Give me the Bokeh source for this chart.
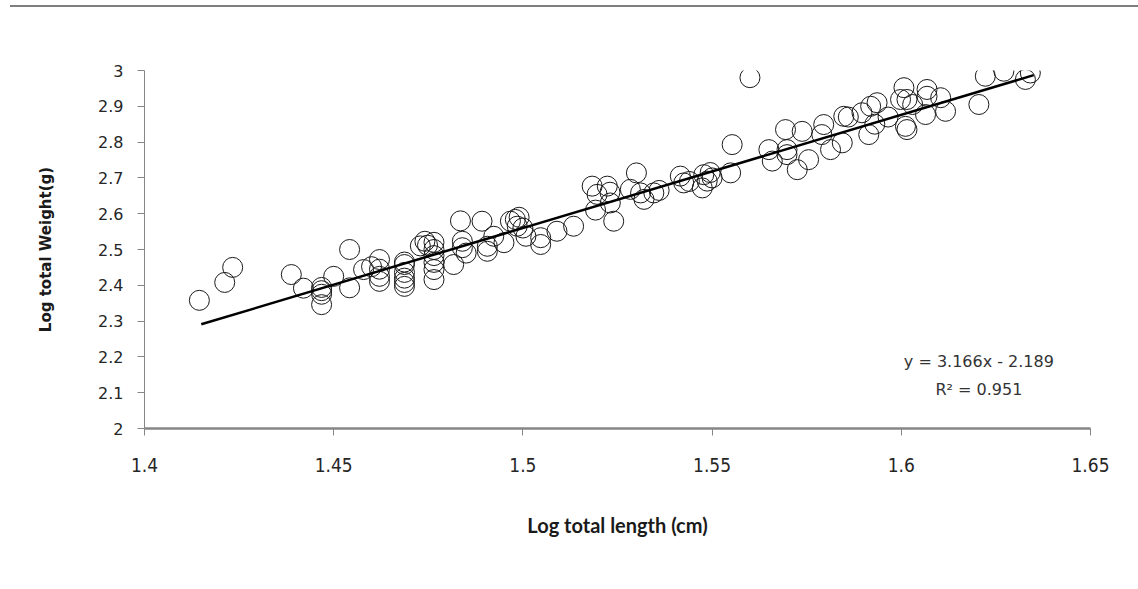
from bokeh.plotting import figure
from bokeh.models import FixedTicker, Label, Div, ColumnDataSource
from bokeh.layouts import column
from bokeh.embed import file_html
from bokeh.resources import INLINE

# ---- data ----
log_length = [
    1.4145, 1.4212, 1.4233, 1.4388, 1.4420, 1.4468, 1.4468, 1.4468, 1.4468, 1.4500,
    1.4542, 1.4542, 1.4579, 1.4600, 1.4621, 1.4621, 1.4621, 1.4621,
    1.4687, 1.4687, 1.4687, 1.4687, 1.4687, 1.4687, 1.4729,
    1.4741, 1.4748, 1.4765, 1.4765, 1.4765, 1.4765, 1.4765, 1.4765,
    1.4817, 1.4835, 1.4840, 1.4840, 1.4850, 1.4892, 1.4906, 1.4906, 1.4923, 1.4950,
    1.4967, 1.4980, 1.4985, 1.4990, 1.5008, 1.5000, 1.5047, 1.5047, 1.5090, 1.5134,
    1.5183, 1.5196, 1.5192, 1.5223, 1.5231, 1.5240, 1.5230, 1.5284, 1.5300, 1.5311,
    1.5320, 1.5346, 1.5360,
    1.5416, 1.5425, 1.5440, 1.5478, 1.5487, 1.5474, 1.5500, 1.5495, 1.5549, 1.5553,
    1.5600, 1.5650, 1.5659, 1.5694, 1.5698, 1.5698, 1.5725, 1.5738, 1.5755, 1.5795,
    1.5790, 1.5813, 1.5848, 1.5844, 1.5860, 1.5896, 1.5919, 1.5914, 1.5930,
    1.5936, 1.5965, 1.6007, 1.5998, 1.6015, 1.6011, 1.6015, 1.6030, 1.6068, 1.6068,
    1.6064, 1.6104, 1.6117, 1.6205, 1.6222, 1.6271, 1.6341, 1.6328,
]
log_weight = [
    2.358, 2.408, 2.450, 2.430, 2.392, 2.394, 2.375, 2.346, 2.385, 2.425,
    2.500, 2.393, 2.444, 2.452, 2.472, 2.425, 2.411, 2.445,
    2.458, 2.436, 2.408, 2.397, 2.420, 2.465, 2.510,
    2.523, 2.512, 2.520, 2.500, 2.483, 2.464, 2.444, 2.416,
    2.458, 2.580, 2.523, 2.505, 2.490, 2.579, 2.509, 2.495, 2.537, 2.519,
    2.579, 2.584, 2.565, 2.590, 2.537, 2.560, 2.533, 2.514, 2.551, 2.565,
    2.677, 2.654, 2.610, 2.677, 2.630, 2.579, 2.660, 2.668, 2.714, 2.658,
    2.640, 2.658, 2.665,
    2.705, 2.686, 2.690, 2.709, 2.691, 2.672, 2.700, 2.715, 2.714, 2.793,
    2.980, 2.779, 2.747, 2.835, 2.779, 2.765, 2.723, 2.830, 2.751, 2.849,
    2.821, 2.779, 2.872, 2.798, 2.870, 2.882, 2.900, 2.821, 2.850,
    2.910, 2.870, 2.952, 2.919, 2.919, 2.844, 2.835, 2.905, 2.947, 2.928,
    2.877, 2.924, 2.886, 2.905, 2.984, 2.998, 2.993, 2.975,
]
trend_x = [1.415, 1.635]
trend_y = [2.291, 2.987]

x_ticks = [1.4, 1.45, 1.5, 1.55, 1.6, 1.65]
x_tick_labels = ["1.4", "1.45", "1.5", "1.55", "1.6", "1.65"]
y_ticks = [2.0, 2.1, 2.2, 2.3, 2.4, 2.5, 2.6, 2.7, 2.8, 2.9, 3.0]
y_tick_labels = ["2", "2.1", "2.2", "2.3", "2.4", "2.5", "2.6", "2.7", "2.8", "2.9", "3"]

equation_text = "y = 3.166x - 2.189"
r2_text = "R\u00b2 = 0.951"

# ---- figure ----
p = figure(width=1130, height=565, x_range=(1.4, 1.65), y_range=(2.0, 3.0),
           output_backend="svg", toolbar_location=None,
           min_border_left=144, min_border_right=40,
           min_border_top=58, min_border_bottom=149)
p.outline_line_color = None
p.xgrid.grid_line_color = None
p.ygrid.grid_line_color = None
p.background_fill_color = "white"
p.border_fill_color = "white"

src = ColumnDataSource(dict(x=log_length, y=log_weight))
p.scatter("x", "y", source=src, marker="circle", size=20,
          fill_alpha=0, line_color="#1a1a1a", line_width=1)
p.line(trend_x, trend_y, line_color="black", line_width=2.5)

# x axis
xa = p.xaxis[0]
xa.ticker = FixedTicker(ticks=x_ticks)
xa.major_label_overrides = {t: l for t, l in zip(x_ticks, x_tick_labels)}
xa.axis_line_color = "#868686"
xa.axis_line_width = 2.5
xa.major_tick_line_color = "#868686"
xa.major_tick_out = 7
xa.major_tick_in = 0
xa.minor_tick_line_color = None
xa.major_label_text_font = "DejaVu Sans Condensed"
xa.major_label_text_font_size = "19px"
xa.major_label_text_color = "#262626"
xa.major_label_standoff = 22
xa.axis_label = "Log total length (cm)"
xa.axis_label_text_font = "Lato"
xa.axis_label_text_font_style = "bold"
xa.axis_label_text_font_size = "20px"
xa.axis_label_text_color = "#1a1a1a"
xa.axis_label_standoff = 38

# y axis
ya = p.yaxis[0]
ya.ticker = FixedTicker(ticks=y_ticks)
ya.major_label_overrides = {t: l for t, l in zip(y_ticks, y_tick_labels)}
ya.axis_line_color = "#868686"
ya.axis_line_width = 1
ya.major_tick_line_color = "#868686"
ya.major_tick_out = 7
ya.major_tick_in = 0
ya.minor_tick_line_color = None
ya.major_label_text_font = "DejaVu Sans"
ya.major_label_text_font_size = "16px"
ya.major_label_text_color = "#262626"
ya.major_label_standoff = 14
ya.axis_label = "Log total Weight(g)"
ya.axis_label_text_font = "DejaVu Sans"
ya.axis_label_text_font_style = "bold"
ya.axis_label_text_font_size = "15px"
ya.axis_label_text_color = "#1a1a1a"
ya.axis_label_standoff = 40

# equation labels
for txt, yy in [(equation_text, 2.187), (r2_text, 2.109)]:
    p.add_layout(Label(x=1.6205, y=yy, text=txt, text_align="center",
                       text_baseline="middle", text_font="DejaVu Sans",
                       text_font_size="16px", text_color="#333333"))

top_rule = Div(text="", width=1128, height=2, margin=(5, 0, 5, 10),
               styles={"background-color": "#7f7f7f"})

layout = column(top_rule, p)
open("out.html", "w").write(file_html(layout, INLINE))
